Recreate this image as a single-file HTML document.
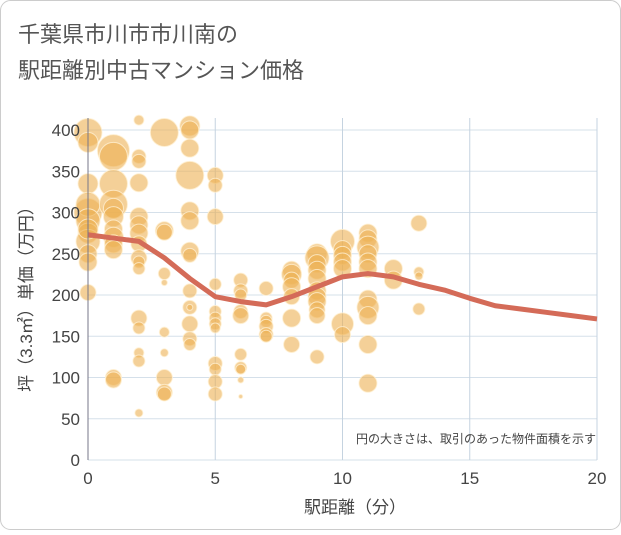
<!DOCTYPE html>
<html><head><meta charset="utf-8"><style>
body{margin:0;background:#fff;font-family:"Liberation Sans","Noto Sans CJK JP",sans-serif}
#wrap{position:relative;width:621px;height:530px}
</style></head><body>
<div id="wrap">
<svg id="svg" width="621" height="530" xmlns="http://www.w3.org/2000/svg" font-family="'Liberation Sans','Noto Sans CJK JP',sans-serif">
<rect x="0.5" y="0.5" width="620" height="529" rx="10" fill="#fff" stroke="#ccc"/>
<text x="18" y="42" font-size="22" fill="#555">千葉県市川市市川南の</text>
<text x="18" y="78" font-size="22" fill="#555">駅距離別中古マンション価格</text>
<g id="grid"></g>
<g id="bubbles"></g>
<g id="line"></g>
<g id="axes"></g>
<text x="596" y="443" font-size="12" fill="#444" text-anchor="end">円の大きさは、取引のあった物件面積を示す</text>
<text x="355" y="513" font-size="17" fill="#444" text-anchor="middle">駅距離（分）</text>
<text transform="translate(32,295) rotate(-90)" font-size="17" fill="#444" text-anchor="middle">坪（3.3㎡）単価（万円）</text>
</svg>
</div>
<script>
const xTicks=[0,5,10,15,20];
const yTicks=[0,50,100,150,200,250,300,350,400];
const lineX=[0,1,2,3,4,5,6,7,8,9,10,11,12,13,14,15,16,17,18,19,20];
const lineY=[273,269,265,245,220,198,192,188,198,210,222,226,222,213,206,196,187,183,179,175,171];
const bubbleX=[0,0,0,0,0,0,0,0,0,0,0,0,1,1,1,1,1,1,1,1,1,1,1,1,2,2,2,2,2,2,2,2,2,2,2,2,2,2,2,2,3,3,3,3,3,3,3,3,3,3,4,4,4,4,4,4,4,4,4,4,4,4,4,4,5,5,5,5,5,5,5,5,5,5,5,5,6,6,6,6,6,6,6,6,6,6,7,7,7,7,7,7,8,8,8,8,8,8,8,9,9,9,9,9,9,9,9,9,9,9,10,10,10,10,10,10,10,11,11,11,11,11,11,11,11,11,11,11,12,12,13,13,13,13];
const bubbleY=[397,385,335,300,310,290,275,265,250,240,203,280,375,368,335,310,305,295,280,270,262,255,100,97,412,368,362,336,295,285,275,262,245,240,232,172,160,130,120,57,397,278,276,226,215,155,130,100,82,80,405,400,378,345,302,290,253,248,205,185,185,165,147,140,345,333,295,213,180,172,165,160,117,110,95,80,218,205,200,180,175,128,112,110,97,77,208,172,168,162,152,150,230,225,218,210,198,172,140,250,245,238,230,220,205,198,192,182,175,125,265,255,248,240,232,165,152,275,268,258,250,240,232,195,185,175,140,93,232,218,287,228,223,183];
const bubbleSize=[14,10,10,14,12,12,10,12,9,9,8,10,16,14,14,14,10,10,9,10,9,9,8,8,5,7,7,9,9,9,9,8,8,6,6,8,6,5,6,4,14,9,8,6,3,5,4,8,8,7,10,9,9,14,9,9,9,7,7,7,3,8,7,6,8,7,8,6,6,6,6,5,7,6,7,7,7,7,6,7,8,6,6,5,3,2,7,6,6,7,7,6,9,10,8,9,8,9,8,10,12,9,9,9,9,9,9,8,8,7,12,9,9,9,9,11,8,9,9,11,9,9,9,9,11,9,9,9,9,9,8,5,4,6];
const X0=88,X1=597,Y0=460,Y1=130;
const sx=v=>X0+(X1-X0)*v/20, sy=v=>Y0-(Y0-Y1)*v/400;
const NS="http://www.w3.org/2000/svg";
function mk(tag,parent,attrs){const e=document.createElementNS(NS,tag);for(const k in attrs)e.setAttribute(k,attrs[k]);document.getElementById(parent).appendChild(e);return e;}
yTicks.forEach(t=>{
 const g=mk('line','grid',{x1:X0,x2:X1,y1:sy(t),y2:sy(t),stroke:'#d5e0ea','stroke-width':1});
 
 
 const l=mk('text','axes',{x:X0-8,y:sy(t)+6,'font-size':17,fill:'#444','text-anchor':'end'});l.textContent=t;
 
 
});
xTicks.forEach(t=>{
 const g=mk('line','grid',{x1:sx(t),x2:sx(t),y1:118,y2:Y0,stroke:'#c5d3e0','stroke-width':1});
 
 
 const l=mk('text','axes',{x:sx(t),y:Y0+24,'font-size':17,fill:'#444','text-anchor':'middle'});l.textContent=t;
 
 
});
const ax=mk('line','axes',{x1:X0,x2:X0,y1:118,y2:Y0,stroke:'#778','stroke-width':1});


bubbleX.forEach((x,i)=>{
 const c=mk('circle','bubbles',{cx:sx(x),cy:sy(bubbleY[i]),r:bubbleSize[i],fill:'rgba(236,176,84,0.6)',stroke:'rgba(255,240,210,0.8)','stroke-width':1});
 
 
});
const p=mk('polyline','line',{points:lineX.map((x,i)=>sx(x)+','+sy(lineY[i])).join(' '),fill:'none',stroke:'#d46b58','stroke-width':5,'stroke-linejoin':'round'});


</script>
</body></html>
